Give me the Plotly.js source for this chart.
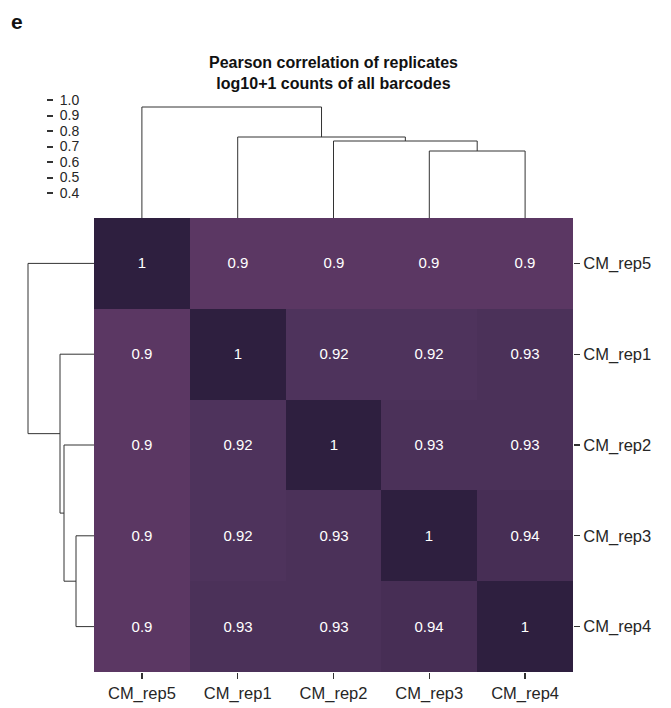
<!DOCTYPE html>
<html>
<head>
<meta charset="utf-8">
<script src="https://cdn.plot.ly/plotly-3.0.1.min.js"></script>
<style>html,body{margin:0;padding:0;background:#fff;}#chart{width:671px;height:708px;}</style>
</head>
<body>
<div id="chart"></div>
<script>
// ---- data ----
const labels = ['CM_rep5', 'CM_rep1', 'CM_rep2', 'CM_rep3', 'CM_rep4'];
const corrRep5 = [1, 0.9, 0.9, 0.9, 0.9];
const corrRep1 = [0.9, 1, 0.92, 0.92, 0.93];
const corrRep2 = [0.9, 0.92, 1, 0.93, 0.93];
const corrRep3 = [0.9, 0.92, 0.93, 1, 0.94];
const corrRep4 = [0.9, 0.93, 0.93, 0.94, 1];
// merges: [nodeA, nodeB, height]; leaves are 0..4, new clusters get 5,6,...
const topMerges = [[3, 4, 0.67], [2, 5, 0.77], [1, 6, 0.81], [0, 7, 1.11]];
const leftMerges = [[3, 4, 0.18], [2, 5, 0.30], [1, 6, 0.34], [0, 7, 0.66]];
const scaleTicks = [0.4, 0.5, 0.6, 0.7, 0.8, 0.9, 1.0];
const titleText = '<b>Pearson correlation of replicates</b><br><b>log10+1 counts of all barcodes</b>';

// ---- helpers ----
function dendro(merges, nLeaves) {
  const pos = [], h = [];
  for (let i = 0; i < nLeaves; i++) { pos.push(i); h.push(0); }
  const P = [], H = [];
  merges.forEach(([a, b, ht]) => {
    P.push(pos[a], pos[a], pos[b], pos[b], null);
    H.push(h[a], ht, ht, h[b], null);
    pos.push((pos[a] + pos[b]) / 2); h.push(ht);
  });
  return {P, H};
}
const W = 671, Hh = 708;
const hx0 = 94 / W, hx1 = 573 / W;
const hy0 = 1 - 672 / Hh, hy1 = 1 - 218 / Hh;
const FONT = 'Liberation Sans, Arial, sans-serif';
const TXT = '#262626';
const LINE = '#333333';

const z = [corrRep5, corrRep1, corrRep2, corrRep3, corrRep4];
const topD = dendro(topMerges, labels.length);
const leftD = dendro(leftMerges, labels.length);

const traces = [
  {
    type: 'heatmap', x: labels, y: labels, z: z,
    zmin: 0.9, zmax: 1,
    colorscale: [[0, '#5b3763'], [0.2, '#4e335c'], [0.3, '#4b3159'], [0.4, '#472e55'], [1, '#2e1f3f']],
    showscale: false,
    texttemplate: '%{z}',
    textfont: {color: '#ffffff', size: 15, family: FONT},
    hoverinfo: 'skip',
    xaxis: 'x', yaxis: 'y'
  },
  {
    type: 'scatter', mode: 'lines', x: topD.P, y: topD.H,
    line: {color: LINE, width: 1}, hoverinfo: 'skip', connectgaps: false,
    xaxis: 'x3', yaxis: 'y3'
  },
  {
    type: 'scatter', mode: 'lines', x: leftD.H, y: leftD.P,
    line: {color: LINE, width: 1}, hoverinfo: 'skip', connectgaps: false,
    xaxis: 'x2', yaxis: 'y2'
  },
  {
    type: 'scatter', mode: 'markers', x: scaleTicks.map(() => 0), y: scaleTicks,
    marker: {opacity: 0}, hoverinfo: 'skip',
    xaxis: 'x4', yaxis: 'y4'
  }
];

const hidden = {visible: false, showgrid: false, zeroline: false, fixedrange: true};

const layout = {
  width: W, height: Hh,
  margin: {l: 0, r: 0, t: 0, b: 0},
  paper_bgcolor: '#ffffff', plot_bgcolor: 'rgba(0,0,0,0)',
  showlegend: false,
  font: {family: FONT, color: TXT},
  xaxis: {
    domain: [hx0, hx1], anchor: 'y', type: 'category',
    ticks: 'outside', ticklen: 6, tickwidth: 1.2, tickcolor: LINE,
    tickfont: {size: 16.5, color: TXT, family: FONT},
    showgrid: false, zeroline: false, showline: false
  },
  yaxis: {
    domain: [hy0, hy1], anchor: 'x', type: 'category', side: 'right',
    autorange: 'reversed',
    ticks: 'outside', ticklen: 6, tickwidth: 1.2, tickcolor: LINE,
    tickfont: {size: 16.5, color: TXT, family: FONT},
    showgrid: false, zeroline: false, showline: false
  },
  xaxis2: Object.assign({}, hidden, {domain: [0, hx0], range: [0.94, 0], anchor: 'y2'}),
  yaxis2: Object.assign({}, hidden, {domain: [hy0, hy1], range: [4.5, -0.5], anchor: 'x2'}),
  xaxis3: Object.assign({}, hidden, {domain: [hx0, hx1], range: [-0.5, 4.5], anchor: 'y3'}),
  yaxis3: Object.assign({}, hidden, {domain: [hy1, 1], range: [0, 2.18], anchor: 'x3'}),
  xaxis4: Object.assign({}, hidden, {domain: [0, 0.05], range: [-1, 1], anchor: 'y4'}),
  yaxis4: {
    domain: [1 - 193 / Hh, 1 - 100 / Hh], range: [0.4, 1.0],
    anchor: 'free', position: 46 / W, side: 'right', overlaying: false,
    tickvals: scaleTicks, ticktext: scaleTicks.map(v => v.toFixed(1)),
    ticks: 'outside', ticklen: 6, tickwidth: 2, tickcolor: LINE,
    ticklabelstandoff: 4,
    tickfont: {size: 14, color: TXT, family: FONT},
    showgrid: false, zeroline: false, showline: false, fixedrange: true
  },
  annotations: [
    {text: titleText, xref: 'paper', yref: 'paper', x: (hx0 + hx1) / 2, y: 1 - 73 / Hh,
     xanchor: 'center', yanchor: 'middle', showarrow: false,
     font: {size: 16, color: '#111111', family: FONT}},
    {text: '<b>e</b>', xref: 'paper', yref: 'paper', x: 9 / W, y: 1 - 21 / Hh,
     xanchor: 'left', yanchor: 'middle', showarrow: false,
     font: {size: 21, color: '#111111', family: FONT}}
  ]
};

Plotly.newPlot('chart', traces, layout, {staticPlot: true, displayModeBar: false});
</script>
</body>
</html>
